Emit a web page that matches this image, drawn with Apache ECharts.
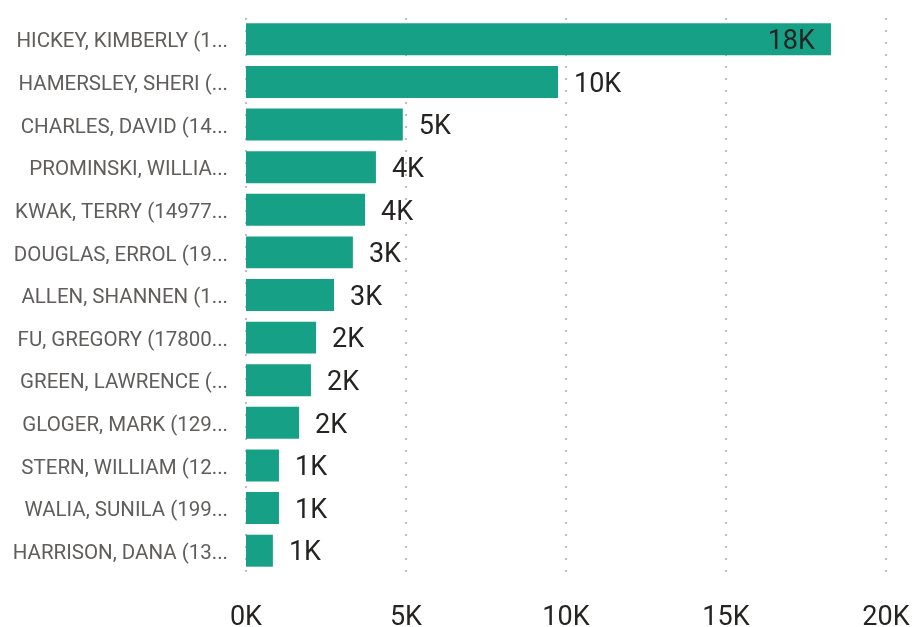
<!DOCTYPE html>
<html><head><meta charset="utf-8">
<script src="https://cdn.jsdelivr.net/npm/echarts@6/dist/echarts.min.js"></script>
<style>html,body{margin:0;padding:0;background:#fff}#c{width:923px;height:627px}</style>
</head><body><div id="c"></div>
<script>
const categories = [
  "HICKEY, KIMBERLY (1...",
  "HAMERSLEY, SHERI (...",
  "CHARLES, DAVID (14...",
  "PROMINSKI, WILLIA...",
  "KWAK, TERRY (14977...",
  "DOUGLAS, ERROL (19...",
  "ALLEN, SHANNEN (1...",
  "FU, GREGORY (17800...",
  "GREEN, LAWRENCE (...",
  "GLOGER, MARK (129...",
  "STERN, WILLIAM (12...",
  "WALIA, SUNILA (199...",
  "HARRISON, DANA (13..."
];
const values = [18280, 9750, 4900, 4060, 3720, 3340, 2750, 2190, 2030, 1660, 1030, 1030, 840];
const xTicks = [0, 5000, 10000, 15000, 20000];

const fmt = v => Math.round(v / 1000) + 'K';
const FONT = 'Roboto';
const data = values.map((v, i) => i === 0
  ? { value: v, label: { position: 'insideRight', distance: 16 } }
  : { value: v });

const chart = echarts.init(document.getElementById('c'));
chart.setOption({
  animation: false,
  grid: { left: 246, right: 37, top: 18, bottom: 55, containLabel: false, outerBoundsMode: 'none' },
  xAxis: {
    type: 'value', min: xTicks[0], max: xTicks[xTicks.length - 1], interval: 5000,
    axisLine: { show: false }, axisTick: { show: false },
    splitLine: { show: true, lineStyle: { type: [2, 10], color: '#bdbdbd', width: 2 } },
    axisLabel: { formatter: fmt, fontFamily: FONT, fontSize: 27, color: '#252423', margin: 33 }
  },
  yAxis: {
    type: 'category', data: categories, inverse: true,
    axisLine: { show: false }, axisTick: { show: false },
    axisLabel: {
      margin: 18,
      formatter: v => '{a|' + v + '}',
      rich: { a: { fontFamily: FONT, fontSize: 20.5, color: '#605E5C', padding: [6, 0, 0, 0] } }
    }
  },
  series: [{
    type: 'bar', data: data, barCategoryGap: '25%',
    itemStyle: { color: '#16A085' },
    label: { show: true, position: 'right', distance: 16, offset: [0, 3], formatter: p => fmt(p.value),
      fontFamily: FONT, fontSize: 27, color: '#252423' }
  }]
});
</script></body></html>
